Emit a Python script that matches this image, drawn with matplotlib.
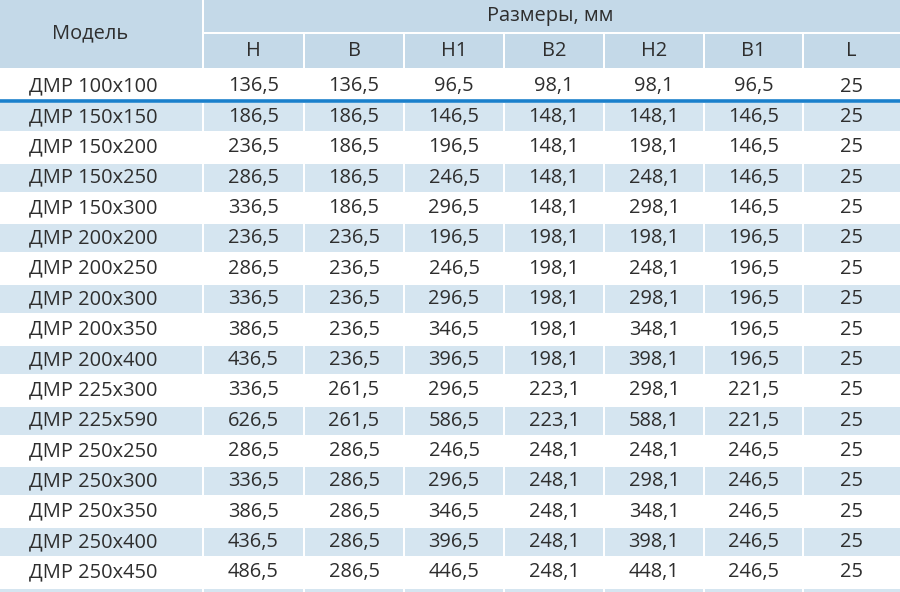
import matplotlib.pyplot as plt
from matplotlib.patches import Rectangle

plt.rcParams["font.family"] = ["Open Sans", "DejaVu Sans"]

models = [
    "ДМР 100x100", "ДМР 150x150", "ДМР 150x200", "ДМР 150x250", "ДМР 150x300",
    "ДМР 200x200", "ДМР 200x250", "ДМР 200x300", "ДМР 200x350", "ДМР 200x400",
    "ДМР 225x300", "ДМР 225x590", "ДМР 250x250", "ДМР 250x300", "ДМР 250x350",
    "ДМР 250x400", "ДМР 250x450",
]
col_names = ["H", "B", "H1", "B2", "H2", "B1", "L"]
H = [136.5, 186.5, 236.5, 286.5, 336.5, 236.5, 286.5, 336.5, 386.5, 436.5,
     336.5, 626.5, 286.5, 336.5, 386.5, 436.5, 486.5]
B = [136.5, 186.5, 186.5, 186.5, 186.5, 236.5, 236.5, 236.5, 236.5, 236.5,
     261.5, 261.5, 286.5, 286.5, 286.5, 286.5, 286.5]
H1 = [96.5, 146.5, 196.5, 246.5, 296.5, 196.5, 246.5, 296.5, 346.5, 396.5,
      296.5, 586.5, 246.5, 296.5, 346.5, 396.5, 446.5]
B2 = [98.1, 148.1, 148.1, 148.1, 148.1, 198.1, 198.1, 198.1, 198.1, 198.1,
      223.1, 223.1, 248.1, 248.1, 248.1, 248.1, 248.1]
H2 = [98.1, 148.1, 198.1, 248.1, 298.1, 198.1, 248.1, 298.1, 348.1, 398.1,
      298.1, 588.1, 248.1, 298.1, 348.1, 398.1, 448.1]
B1 = [96.5, 146.5, 146.5, 146.5, 146.5, 196.5, 196.5, 196.5, 196.5, 196.5,
      221.5, 221.5, 246.5, 246.5, 246.5, 246.5, 246.5]
L = [25, 25, 25, 25, 25, 25, 25, 25, 25, 25, 25, 25, 25, 25, 25, 25, 25]
columns = [H, B, H1, B2, H2, B1, L]

HEAD_BG = "#c4d9e8"
SHADE_BG = "#d5e5f0"
TEXT = "#2e2e2e"
LINE = "#1a80cc"
FS = 14.4

# column edges in pixels
edges = [0, 203, 304, 404, 504, 604, 704, 803, 900]
gap = 2.5
row_pitch = 30.36
first_top = 103


def fmt(v):
    if float(v).is_integer():
        return str(int(v))
    return f"{v:.1f}".replace(".", ",")


def shade_row(top):
    for k in range(len(edges) - 1):
        x0 = edges[k] + (gap / 2 if k > 0 else 0)
        x1 = edges[k + 1] - (gap / 2 if k < len(edges) - 2 else 0)
        ax.add_patch(Rectangle((x0, top), x1 - x0, 28, color=SHADE_BG, lw=0))


fig = plt.figure(figsize=(9, 5.92), dpi=100)
ax = fig.add_axes([0, 0, 1, 1])
ax.set_xlim(0, 900)
ax.set_ylim(592, 0)
ax.axis("off")

# header
ax.add_patch(Rectangle((0, 0), edges[1] - gap / 2, 68, color=HEAD_BG, lw=0))
ax.add_patch(Rectangle((edges[1] + gap / 2, 0), 900 - edges[1], 32, color=HEAD_BG, lw=0))
for j in range(len(col_names)):
    x0 = edges[j + 1] + gap / 2
    x1 = edges[j + 2] - gap / 2 if j < len(col_names) - 1 else 900
    ax.add_patch(Rectangle((x0, 34), x1 - x0, 34, color=HEAD_BG, lw=0))
    ax.text((edges[j + 1] + edges[j + 2]) / 2, 51.5, col_names[j], ha="center",
            va="center", fontsize=FS, color=TEXT)
ax.text(90, 33, "Модель", ha="center", va="center", fontsize=FS, color=TEXT)
ax.text(550, 16, "Размеры, мм", ha="center", va="center", fontsize=FS, color=TEXT)

# rows
for i, name in enumerate(models):
    if i == 0:
        yc = 86.5
    else:
        top = first_top + (i - 1) * row_pitch
        yc = top + 14
        if i % 2 == 1:
            shade_row(top)
    ax.text(93, yc, name, ha="center", va="center", fontsize=FS, color=TEXT)
    for j, col in enumerate(columns):
        ax.text((edges[j + 1] + edges[j + 2]) / 2, yc, fmt(col[i]), ha="center",
                va="center", fontsize=FS, color=TEXT)

# partial shaded row at the bottom edge
shade_row(first_top + (len(models) - 1) * row_pitch)

ax.plot([0, 900], [101, 101], color=LINE, lw=2.6, solid_capstyle="butt")

fig.savefig("out.png", dpi=100)
